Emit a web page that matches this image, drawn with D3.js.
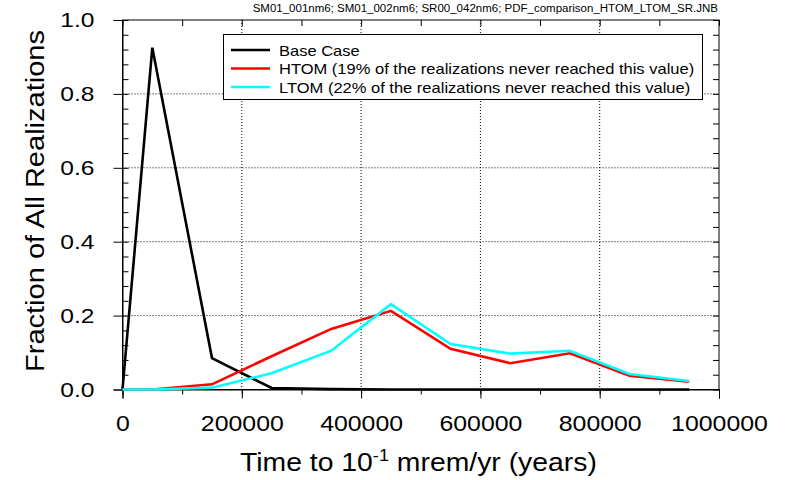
<!DOCTYPE html>
<html><head><meta charset="utf-8">
<script src="https://cdn.jsdelivr.net/npm/d3@7"></script>
<style>body{margin:0;background:#fff}svg{display:block}text{font-family:"Liberation Sans",Arial,sans-serif}</style>
</head><body>
<svg id="c" width="788" height="480"></svg>
<script>
const times = [0, 50000, 150000, 250000, 350000, 450000, 550000, 650000, 750000, 850000, 950000];
const baseCase = [0, 0.925, 0.085, 0.004, 0.001, 0, 0, 0, 0, 0, 0];
const htom = [0, 0, 0.014, 0.09, 0.164, 0.213, 0.11, 0.071, 0.098, 0.037, 0.021];
const ltom = [0, 0, 0.005, 0.044, 0.105, 0.231, 0.123, 0.097, 0.105, 0.042, 0.023];
const xTicks = [0, 200000, 400000, 600000, 800000, 1000000];
const yTicks = [0, 0.2, 0.4, 0.6, 0.8, 1.0];
const seriesNames = ["Base Case", "HTOM (19% of the realizations never reached this value)", "LTOM (22% of the realizations never reached this value)"];
const seriesColors = ["#000000", "#ff0000", "#00ffff"];
const headerText = "SM01_001nm6; SM01_002nm6; SR00_042nm6; PDF_comparison_HTOM_LTOM_SR.JNB";

const svg = d3.select("#c");
const L = 122.5, R = 719, T = 20, B = 389.5;
const x = d3.scaleLinear().domain([0, 1000000]).range([L, R]);
const y = d3.scaleLinear().domain([0, 1]).range([B, T]);

function stretch(sel, k) {
  sel.each(function(){ const w = this.getComputedTextLength(); this.setAttribute("textLength", w*k); this.setAttribute("lengthAdjust","spacingAndGlyphs"); });
}

// grid
const g = svg.append("g");
g.selectAll(".gx").data(xTicks.filter(d => d > 0 && d < 1000000)).enter().append("line")
  .attr("x1", d => x(d)).attr("x2", d => x(d)).attr("y1", T).attr("y2", B)
  .attr("stroke", "#000").attr("stroke-width", 1).attr("stroke-dasharray", "1,2");
g.selectAll(".gy").data(yTicks.filter(d => d > 0 && d < 1)).enter().append("line")
  .attr("x1", L).attr("x2", R).attr("y1", d => y(d)).attr("y2", d => y(d))
  .attr("stroke", "#000").attr("stroke-width", 1).attr("stroke-dasharray", "1,2");

// axes
const xMinor = d3.range(0, 1000001, 100000);
const yMinor = d3.range(0, 1.0001, 0.04);
const bottom = svg.append("g").attr("transform", `translate(0,${B})`)
  .call(d3.axisBottom(x).tickValues(xTicks).tickFormat(d3.format("d")).tickSize(9).tickPadding(17));
svg.append("g").attr("transform", `translate(0,${B})`)
  .call(d3.axisBottom(x).tickValues(xMinor).tickFormat("").tickSize(5)).select(".domain").remove();
const left = svg.append("g").attr("transform", `translate(${L},0)`)
  .call(d3.axisLeft(y).tickValues(yTicks).tickFormat(d3.format(".1f")).tickSize(9).tickPadding(19));
svg.append("g").attr("transform", `translate(${L},0)`)
  .call(d3.axisRight(y).tickValues(yMinor).tickFormat("").tickSize(6)).select(".domain").remove();
svg.append("g").attr("transform", `translate(${R},0)`)
  .call(d3.axisLeft(y).tickValues(yMinor).tickFormat("").tickSize(6)).select(".domain").remove();
svg.append("g").attr("transform", `translate(0,${T})`)
  .call(d3.axisBottom(x).tickValues(xMinor).tickFormat("").tickSize(6)).select(".domain").remove();
svg.selectAll(".domain").attr("stroke", "#000");
svg.selectAll(".tick line").attr("stroke", "#000");
bottom.selectAll("text").attr("font-size", 22).attr("fill", "#000").call(stretch, 1.13);
left.selectAll("text").attr("font-size", 21).attr("fill", "#000").call(stretch, 1.17);
svg.append("rect").attr("x", L).attr("y", T).attr("width", R - L).attr("height", B - T)
  .attr("fill", "none").attr("stroke", "#000").attr("stroke-width", 1);

// lines
const all = [baseCase, htom, ltom];
const line = d3.line().x((d, i) => x(times[i])).y(d => y(d));
all.forEach((s, i) => {
  svg.append("path").datum(s).attr("d", line).attr("fill", "none")
    .attr("stroke", seriesColors[i]).attr("stroke-width", 2.6).attr("stroke-linejoin", "miter");
});

// legend
const lg = svg.append("g");
lg.append("rect").attr("x", 223.5).attr("y", 34.5).attr("width", 479).attr("height", 65)
  .attr("fill", "#fff").attr("stroke", "#000").attr("stroke-width", 1);
seriesNames.forEach((n, i) => {
  const yy = 50 + i * 18.5;
  lg.append("line").attr("x1", 231).attr("x2", 270).attr("y1", yy).attr("y2", yy)
    .attr("stroke", seriesColors[i]).attr("stroke-width", 2.6);
  lg.append("text").attr("x", 279).attr("y", yy + 5.5).attr("font-size", 15).text(n).call(stretch, 1.1);
});

// titles
svg.append("text").attr("x", 718).attr("y", 12).attr("text-anchor", "end").attr("font-size", 10).text(headerText).call(stretch, 1.15);
svg.append("text").attr("transform", "translate(44,201) rotate(-90)").attr("text-anchor", "middle")
  .attr("font-size", 25).attr("textLength", 342).attr("lengthAdjust", "spacingAndGlyphs").text("Fraction of All Realizations");
const xg = svg.append("g");
const xt = xg.append("text").attr("x", 0).attr("y", 0).attr("font-size", 25);
xt.append("tspan").text("Time to 10");
xt.append("tspan").attr("dy", -10).attr("font-size", 16).text("-1");
xt.append("tspan").attr("dy", 10).text(" mrem/yr (years)");
const bb = xt.node().getBBox();
const k = 357 / bb.width;
xg.attr("transform", `translate(240,471) scale(${k},1)`);
</script>
</body></html>
